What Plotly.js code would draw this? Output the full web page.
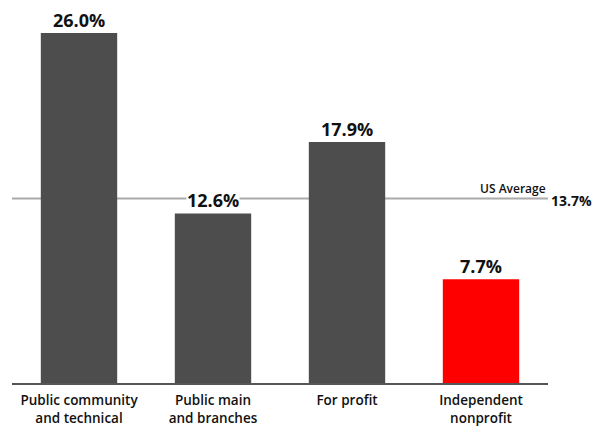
<!DOCTYPE html>
<html>
<head>
<meta charset="utf-8">
<script src="https://cdn.plot.ly/plotly-3.0.1.min.js"></script>
<style>html,body{margin:0;padding:0;background:#fff;}#chart{width:594px;height:427px;}</style>
</head>
<body>
<div id="chart"></div>
<script>
const categories = ["Public community and technical", "Public main and branches", "For profit", "Independent nonprofit"];
const tickLabels = ["Public community<br>and technical", "Public main<br>and branches", "For profit", "Independent<br>nonprofit"];
const values = [26.0, 12.6, 17.9, 7.7];
const barColors = ["#4d4d4d", "#4d4d4d", "#4d4d4d", "#ff0000"];
const usAverage = 13.7;

const FONT = "Open Sans, Noto Sans, sans-serif";

const trace = {
  type: "bar",
  x: categories,
  y: values,
  marker: {color: barColors, line: {width: 0}},
  width: 0.57,
  hoverinfo: "none"
};

const annotations = values.map((v, i) => ({
  x: categories[i], y: v, xref: "x", yref: "y",
  text: v.toFixed(1) + "%",
  showarrow: false, yanchor: "bottom", yshift: 0,
  bgcolor: "#ffffff", borderpad: 0,
  font: {family: FONT, size: 18, color: "#111", weight: 700}
}));
annotations.push({
  x: 1, xref: "paper", y: usAverage, yref: "y",
  text: "US Average", showarrow: false, xanchor: "right", yanchor: "bottom", yshift: 0,
  font: {family: FONT, size: 12, color: "#111", weight: 600}
});
annotations.push({
  x: 1, xref: "paper", y: usAverage, yref: "y",
  text: "13.7%", showarrow: false, xanchor: "left", yanchor: "middle", yshift: -2, xshift: 1,
  font: {family: FONT, size: 14, color: "#111", weight: 700}
});

const layout = {
  width: 594, height: 427,
  margin: {l: 12, r: 46, t: 10, b: 44},
  paper_bgcolor: "#fff", plot_bgcolor: "#fff",
  showlegend: false,
  bargap: 0.43,
  xaxis: {
    type: "category", categoryorder: "array", categoryarray: categories,
    tickvals: categories, ticktext: tickLabels,
    range: [-0.5, 3.5],
    showline: true, linecolor: "#555", linewidth: 2,
    ticks: "", showgrid: false, zeroline: false,
    ticklabelstandoff: 4,
    tickfont: {family: FONT, size: 13.5, color: "#111", weight: 600},
    fixedrange: true
  },
  yaxis: {
    range: [0, 27.71],
    visible: false, showgrid: false, zeroline: false, fixedrange: true
  },
  shapes: [{
    type: "line", xref: "paper", x0: 0, x1: 1, yref: "y", y0: usAverage, y1: usAverage,
    line: {color: "#aaaaaa", width: 2}, layer: "below"
  }],
  annotations: annotations
};

Plotly.newPlot("chart", [trace], layout, {displayModeBar: false, staticPlot: true});
</script>
</body>
</html>
